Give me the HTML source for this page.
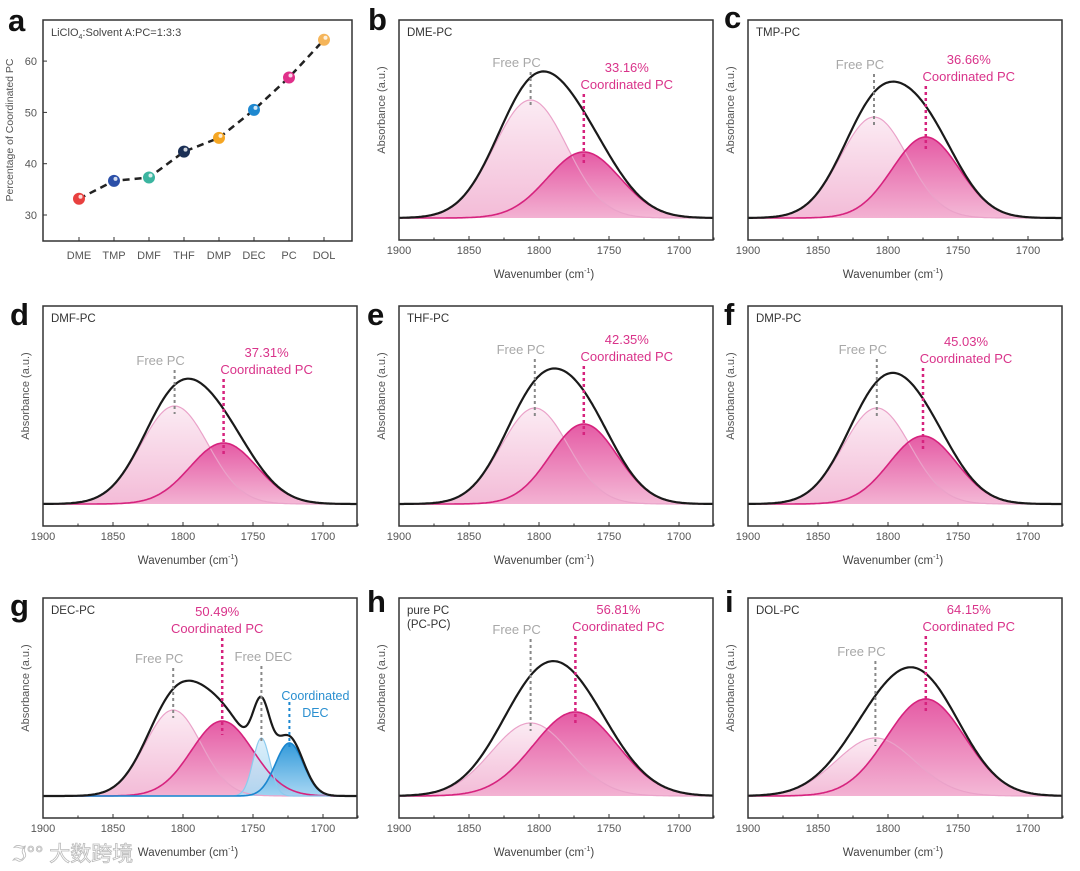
<!DOCTYPE html>
<html><head><meta charset="utf-8">
<style>
html,body{margin:0;padding:0;background:#fff;}
svg{display:block;font-family:"Liberation Sans",Arial,sans-serif;}
</style></head>
<body>
<svg id="fig" width="1080" height="871" viewBox="0 0 1080 871" xmlns="http://www.w3.org/2000/svg">
<defs>
<linearGradient id="gFree" x1="0" y1="0" x2="0" y2="1"><stop offset="0" stop-color="#fbe9f2"/><stop offset="1" stop-color="#f2b4d3"/></linearGradient>
<linearGradient id="gCoord" x1="0" y1="0" x2="0" y2="1"><stop offset="0" stop-color="#e2489a"/><stop offset="1" stop-color="#f3b1d2"/></linearGradient>
<linearGradient id="gDecF" x1="0" y1="0" x2="0" y2="1"><stop offset="0" stop-color="#d9eefa"/><stop offset="1" stop-color="#a9d8f2"/></linearGradient>
<linearGradient id="gDecC" x1="0" y1="0" x2="0" y2="1"><stop offset="0" stop-color="#1d8fd6"/><stop offset="1" stop-color="#9fd3f2"/></linearGradient>
</defs>
</svg>
<script>
// ---- Panel a data ----
const solventCats = ["DME","TMP","DMF","THF","DMP","DEC","PC","DOL"];
const coordPctValues = [33.16,36.66,37.31,42.35,45.03,50.49,56.81,64.15];
const pctTicks = [30,40,50,60];
// ---- Spectra data ----
const panelIds = ["b","c","d","e","f","g","h","i"];
const panelTitles = ["DME-PC","TMP-PC","DMF-PC","THF-PC","DMP-PC","DEC-PC","pure PC|(PC-PC)","DOL-PC"];
const pctLabels = ["33.16%","36.66%","37.31%","42.35%","45.03%","50.49%","56.81%","64.15%"];
const freeCenters = [1806,1810,1806,1803,1808,1807,1806,1809];
const freeHeights = [118,101,98,96,96,86,73,58];
const freeWidths = [26,24,24,24,24,20,28,28];
const coordCenters = [1768,1773,1771,1768,1775,1772,1774,1773];
const coordHeights = [66,81,61,80,68,75,84,97];
const coordWidths = [26,24,24,24,24,22,30,28];
const decCenters = [1744,1724];
const decHeights = [58,53];
const decWidths = [6,10];
const wnTicks = [1900,1850,1800,1750,1700];

const NS="http://www.w3.org/2000/svg";
const svg=document.getElementById('fig');
function mk(tag,attrs,parent,text){const e=document.createElementNS(NS,tag);for(const k in attrs)e.setAttribute(k,attrs[k]);if(text!==undefined)e.textContent=text;(parent||svg).appendChild(e);return e;}

// ---------- Panel a ----------
(function(){
  const g=mk('g',{});
  
  
  const L=43,T=20,R=352,B=241;
  const yS=v=>215-(v-30)*5.13;
  const xS=i=>79+i*35;
  const lt=mk('text',{x:8,y:31,'font-size':31,'font-weight':'bold',fill:'#111'},g,'a');
  
  
  const box=mk('rect',{x:L,y:T,width:R-L,height:B-T,fill:'none',stroke:'#333','stroke-width':1.5},g);
  
  
  const an=mk('text',{x:51,y:36,'font-size':11,fill:'#444'},g);
  
  
  mk('tspan',{},an,'LiClO');mk('tspan',{'font-size':7,dy:3},an,'4');mk('tspan',{dy:-3},an,':Solvent A:PC=1:3:3');
  pctTicks.forEach(v=>{
    mk('line',{x1:L,x2:L+4,y1:yS(v),y2:yS(v),stroke:'#333'},g);
    const t=mk('text',{x:L-6,y:yS(v)+4,'font-size':11,fill:'#555','text-anchor':'end'},g,v);
    
    
  });
  const yt=mk('text',{transform:'translate(13,130) rotate(-90)','font-size':10.5,fill:'#555','text-anchor':'middle'},g,'Percentage of Coordinated PC');
  
  
  let pts=coordPctValues.map((v,i)=>xS(i)+','+yS(v)).join(' ');
  const ln=mk('polyline',{points:pts,fill:'none',stroke:'#222','stroke-width':2.5,'stroke-dasharray':'7,5'},g);
  
  
  const cols=["#e8403f","#2b4fa8","#3bb5a0","#1a2f55","#f5a623","#1e88d0","#e0308a","#f5b55a"];
  solventCats.forEach((c,i)=>{
    mk('line',{x1:xS(i),x2:xS(i),y1:B,y2:B-4,stroke:'#333'},g);
    const t=mk('text',{x:xS(i),y:259,'font-size':11,fill:'#555','text-anchor':'middle'},g,c);
    
    
    const d=mk('circle',{cx:xS(i),cy:yS(coordPctValues[i]),r:6,fill:cols[i]},g);
    
    
    mk('circle',{cx:xS(i)+1.5,cy:yS(coordPctValues[i])-2,r:2,fill:'#fff',opacity:0.8},g);
  });
})();

// ---------- Spectra panels ----------
const colLefts=[43,399,748], rowTops=[20,306,598];
const labelOffsets=[[43,48],[45,40],[55,47],[44,34],[44,36],[61,14],[32,12],[54,12]];
const letterPos=[[368,30],[724,28],[10,325],[367,325],[724,325],[10,616],[367,612],[725,612]];
function gauss(w,c,h,s){return h*Math.exp(-((w-c)*(w-c))/(2*s*s));}

panelIds.forEach((id,p)=>{
  const slot=p+1, col=slot%3, row=Math.floor(slot/3);
  const L=colLefts[col], T=rowTops[row], W=314, H=220, B=T+H, base=T+198;
  const xS=w=>L+(1900-w)*1.4;
  const yS=a=>base-a;
  const g=mk('g',{});
  
  
  const lt=mk('text',{x:letterPos[p][0],y:letterPos[p][1],'font-size':31,'font-weight':'bold',fill:'#111'},g,id);
  
  
  const cid='clip'+id;
  const cp=mk('clipPath',{id:cid},g);mk('rect',{x:L,y:T,width:W,height:H},cp);
  const pg=mk('g',{'clip-path':'url(#'+cid+')'},g);
  const comps=[{c:freeCenters[p],h:freeHeights[p],s:freeWidths[p],fill:'url(#gFree)',stroke:'#eaa2c9',sw:1.2,name:'free-pc-peak'},
               {c:coordCenters[p],h:coordHeights[p],s:coordWidths[p],fill:'url(#gCoord)',stroke:'#d6237e',sw:1.6,name:'coordinated-pc-peak'}];
  if(id==='g'){
    comps.push({c:decCenters[0],h:decHeights[0],s:decWidths[0],fill:'url(#gDecF)',stroke:'#8ccbee',sw:1.2,name:'free-dec-peak'});
    comps.push({c:decCenters[1],h:decHeights[1],s:decWidths[1],fill:'url(#gDecC)',stroke:'#1a86cf',sw:1.6,name:'coordinated-dec-peak'});
  }
  const wns=[];for(let w=1905;w>=1670;w-=1)wns.push(w);
  comps.forEach(cm=>{
    let d='M'+xS(1905)+','+base;
    wns.forEach(w=>{d+=' L'+xS(w).toFixed(1)+','+yS(gauss(w,cm.c,cm.h,cm.s)).toFixed(1);});
    const f=mk('path',{d:d+' L'+xS(1670)+','+base+' Z',fill:cm.fill,opacity:0.9},pg);
    
    
  });
  comps.forEach(cm=>{
    let d='';
    wns.forEach((w,k)=>{d+=(k?' L':'M')+xS(w).toFixed(1)+','+yS(gauss(w,cm.c,cm.h,cm.s)).toFixed(1);});
    const s=mk('path',{d:d,fill:'none',stroke:cm.stroke,'stroke-width':cm.sw},pg);
    
    
  });
  let d='';
  wns.forEach((w,k)=>{let a=0;comps.forEach(cm=>a+=gauss(w,cm.c,cm.h,cm.s));d+=(k?' L':'M')+xS(w).toFixed(1)+','+yS(a).toFixed(1);});
  const sum=mk('path',{d:d,fill:'none',stroke:'#1a1a1a','stroke-width':2.2},pg);
  
  
  const box=mk('rect',{x:L,y:T,width:W,height:H,fill:'none',stroke:'#333','stroke-width':1.5},g);
  
  
  for(let w=1900;w>=1675;w-=25){
    const maj=(w%50===0);
    mk('line',{x1:xS(w),x2:xS(w),y1:B,y2:B-(maj?4:2.5),stroke:'#333'},g);
  }
  wnTicks.forEach(w=>{
    const t=mk('text',{x:xS(w),y:B+14,'font-size':11,fill:'#555','text-anchor':'middle'},g,w);
    
    
  });
  const xt=mk('text',{x:L+W/2-12,y:B+38,'font-size':11.5,fill:'#444','text-anchor':'middle'},g);
  
  
  mk('tspan',{},xt,'Wavenumber (cm');mk('tspan',{'font-size':7,dy:-5},xt,'-1');mk('tspan',{dy:5},xt,')');
  const yt=mk('text',{transform:'translate('+(L-14)+','+(T+H/2-20)+') rotate(-90)','font-size':11,fill:'#555','text-anchor':'middle'},g,'Absorbance (a.u.)');
  
  
  const tl=panelTitles[p].split('|');
  tl.forEach((s,k)=>{
    const t=mk('text',{x:L+8,y:T+16+k*14,'font-size':11.5,fill:'#333'},g,s);
    
    
  });
  const fy=T+labelOffsets[p][0], py=T+labelOffsets[p][1];
  const fx=xS(freeCenters[p]), cx=xS(coordCenters[p]);
  const fl=mk('text',{x:fx-14,y:fy+4,'font-size':13,fill:'#a8a8a8','text-anchor':'middle'},g,'Free PC');
  
  
  mk('line',{x1:fx,x2:fx,y1:fy+9,y2:yS(freeHeights[p])+8,stroke:'#888','stroke-width':2,'stroke-dasharray':'3,3'},g);
  const tx=(id==='g')?cx-5:cx+43;
  const pl=mk('text',{x:tx,y:py+4,'font-size':13,fill:'#d9338a','text-anchor':'middle'},g,pctLabels[p]);
  
  
  const cl=mk('text',{x:tx,y:py+21,'font-size':13,fill:'#d9338a','text-anchor':'middle'},g,'Coordinated PC');
  
  
  mk('line',{x1:cx,x2:cx,y1:py+26,y2:yS(coordHeights[p])+14,stroke:'#d6237e','stroke-width':2.5,'stroke-dasharray':'3,3'},g);
  if(id==='g'){
    const dx=xS(decCenters[0]), ex=xS(decCenters[1]);
    const a=mk('text',{x:dx+2,y:T+63,'font-size':13,fill:'#a8a8a8','text-anchor':'middle'},g,'Free DEC');
    
    
    mk('line',{x1:dx,x2:dx,y1:T+68,y2:yS(decHeights[0])+6,stroke:'#888','stroke-width':2,'stroke-dasharray':'3,3'},g);
    const b1=mk('text',{x:ex+26,y:T+102,'font-size':12.5,fill:'#2a8fd0','text-anchor':'middle'},g,'Coordinated');
    
    
    mk('text',{x:ex+26,y:T+119,'font-size':12.5,fill:'#2a8fd0','text-anchor':'middle'},g,'DEC');
    mk('line',{x1:ex,x2:ex,y1:T+104,y2:yS(decHeights[1])+6,stroke:'#1a86cf','stroke-width':2,'stroke-dasharray':'3,3'},g);
  }
});
// watermark
const wm=mk('text',{x:12,y:861,'font-size':21,fill:'#fff',stroke:'#bbb','stroke-width':0.8,'font-family':'"Liberation Sans","Noto Sans CJK SC",sans-serif'},svg,'\u2111\u00B0\u00B0 大数跨境');


</script>
</body></html>
